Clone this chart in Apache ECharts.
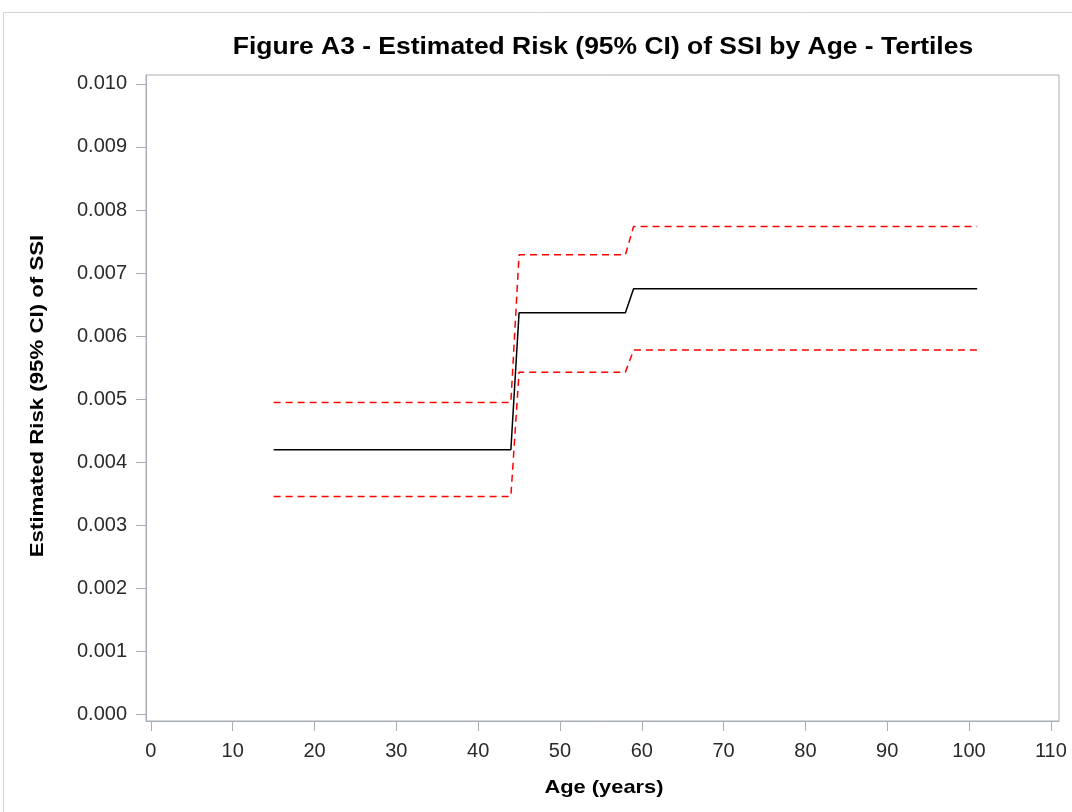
<!DOCTYPE html>
<html>
<head>
<meta charset="utf-8">
<script src="https://cdn.jsdelivr.net/npm/echarts@6/dist/echarts.min.js"></script>
<style>
html,body{margin:0;padding:0;background:#fff;}
#chart{width:1072px;height:812px;}
</style>
</head>
<body>
<div id="chart"></div>
<script>
// Data
var ages = [15, 44, 45, 58, 59, 101];
var estimate = [0.00420, 0.00420, 0.00637, 0.00637, 0.00675, 0.00675];
var upperCI = [0.00495, 0.00495, 0.00729, 0.00729, 0.00774, 0.00774];
var lowerCI = [0.00346, 0.00346, 0.00543, 0.00543, 0.00578, 0.00578];
var xTicks = [0, 10, 20, 30, 40, 50, 60, 70, 80, 90, 100, 110];
var yTicks = [0, 0.001, 0.002, 0.003, 0.004, 0.005, 0.006, 0.007, 0.008, 0.009, 0.010];
var titleText = 'Figure A3 - Estimated Risk (95% CI) of SSI by Age - Tertiles';
var xTitle = 'Age (years)';
var yTitle = 'Estimated Risk (95% CI) of SSI';

function pairs(xs, ys) { return xs.map(function (x, i) { return [x, ys[i]]; }); }

var axisGrey = '#a9aeb5';
var font = 'Liberation Sans, Arial, sans-serif';
var chart = echarts.init(document.getElementById('chart'));
chart.setOption({
  animation: false,
  backgroundColor: '#ffffff',
  graphic: [
    {
      type: 'rect', silent: true, z: -10,
      shape: { x: 3.5, y: 12.5, width: 1200, height: 900 },
      style: { fill: 'none', stroke: '#d4d4d4', lineWidth: 1 }
    },
    {
      type: 'text', x: 603, y: 48, scaleX: 1.15,
      style: { text: titleText, fontFamily: font, fontWeight: 'bold', fontSize: 23, fill: '#000',
               align: 'center', verticalAlign: 'middle' }
    },
    {
      type: 'text', x: 604, y: 788, scaleX: 1.15,
      style: { text: xTitle, fontFamily: font, fontWeight: 'bold', fontSize: 19, fill: '#000',
               align: 'center', verticalAlign: 'middle' }
    },
    {
      type: 'text', x: 38, y: 396, scaleX: 1.17, rotation: Math.PI / 2,
      style: { text: yTitle, fontFamily: font, fontWeight: 'bold', fontSize: 19, fill: '#000',
               align: 'center', verticalAlign: 'middle' }
    }
  ],
  grid: {
    left: 146, top: 75, right: 13, bottom: 91,
    show: true, borderColor: axisGrey, borderWidth: 1, backgroundColor: '#fff'
  },
  xAxis: {
    type: 'value', min: -0.6, max: 111,
    axisLine: { show: true, onZero: false, lineStyle: { color: axisGrey } },
    axisTick: { show: true, length: 10, customValues: xTicks, lineStyle: { color: axisGrey } },
    axisLabel: { customValues: xTicks, margin: 20, fontFamily: font, fontSize: 20, color: '#2a2a2a' },
    splitLine: { show: false }
  },
  yAxis: {
    type: 'value', min: -0.0001, max: 0.01014,
    axisLine: { show: true, onZero: false, lineStyle: { color: axisGrey } },
    axisTick: { show: true, length: 10, customValues: yTicks, lineStyle: { color: axisGrey } },
    axisLabel: {
      customValues: yTicks, margin: 19, fontFamily: font, fontSize: 20, color: '#2a2a2a',
      formatter: function (v) { return v.toFixed(3); }
    },
    splitLine: { show: false }
  },
  series: [
    {
      name: 'Upper CI', type: 'line', data: pairs(ages, upperCI), symbol: 'none',
      lineStyle: { color: '#ff0000', width: 1.5, type: [7, 5] }
    },
    {
      name: 'Lower CI', type: 'line', data: pairs(ages, lowerCI), symbol: 'none',
      lineStyle: { color: '#ff0000', width: 1.5, type: [7, 5] }
    },
    {
      name: 'Estimate', type: 'line', data: pairs(ages, estimate), symbol: 'none',
      lineStyle: { color: '#000000', width: 1.5 }
    }
  ]
});
</script>
</body>
</html>
